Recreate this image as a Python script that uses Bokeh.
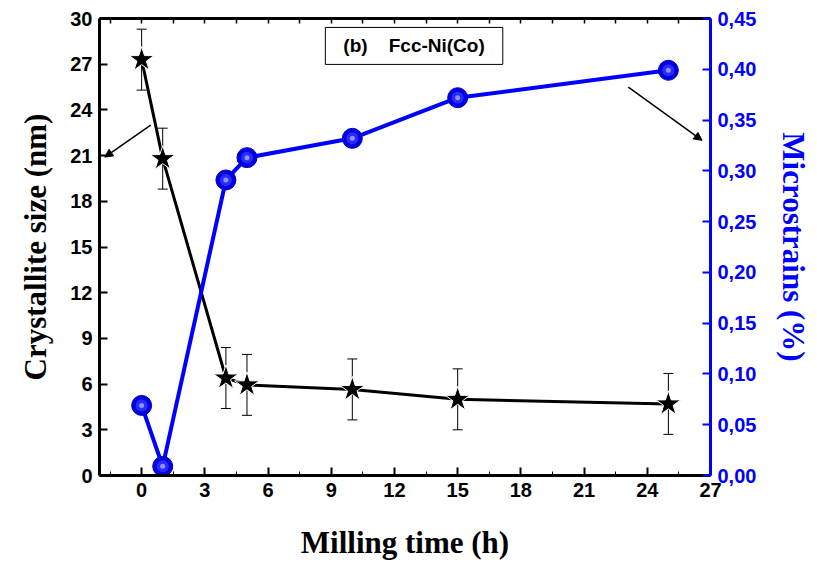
from bokeh.plotting import figure
from bokeh.models import (LinearAxis, Range1d, FixedTicker, Whisker, TeeHead, Arrow,
                          NormalHead, Label, ColumnDataSource)
from bokeh.embed import file_html
from bokeh.resources import INLINE

# ---- data ----
milling_time = [0, 1, 4, 5, 10, 15, 25]
crystallite_size = [27.3, 20.8, 6.4, 5.95, 5.65, 5.0, 4.7]
size_error = [2.0, 2.0, 2.0, 2.0, 2.0, 2.0, 2.0]
microstrain = [0.069, 0.009, 0.291, 0.313, 0.332, 0.372, 0.399]

x_ticks = [0, 3, 6, 9, 12, 15, 18, 21, 24, 27]
y_ticks = [0, 3, 6, 9, 12, 15, 18, 21, 24, 27, 30]
strain_ticks = [0.0, 0.05, 0.10, 0.15, 0.20, 0.25, 0.30, 0.35, 0.40, 0.45]
strain_tick_labels = ["0,00", "0,05", "0,10", "0,15", "0,20", "0,25", "0,30", "0,35", "0,40", "0,45"]

BLUE = "#0000ff"
SANS = "Liberation Sans"
SERIF = "Liberation Serif"

p = figure(width=815, height=563, output_backend="svg", toolbar_location=None,
           x_range=Range1d(-2, 27), y_range=Range1d(0, 30),
           min_border_left=99, min_border_right=105, min_border_top=18, min_border_bottom=88,
           x_axis_location=None, y_axis_location=None)
p.extra_y_ranges = {"strain": Range1d(0, 0.45)}
p.grid.visible = False
p.outline_line_color = None
p.background_fill_color = "white"


def style_axis(ax, color="black"):
    ax.axis_line_width = 3
    ax.axis_line_color = color
    ax.major_tick_line_color = color
    ax.major_tick_in = 8
    ax.major_tick_out = 0
    ax.major_tick_line_width = 2
    ax.major_label_text_color = color
    ax.major_label_text_font = SANS
    ax.major_label_text_font_style = "bold"
    ax.major_label_text_font_size = "20px"
    ax.major_label_standoff = 7
    ax.axis_label_text_color = color
    ax.axis_label_text_font = SERIF
    ax.axis_label_text_font_style = "bold"
    ax.axis_label_text_font_size = "31px"


# bottom axis
xb = LinearAxis(ticker=FixedTicker(ticks=x_ticks, minor_ticks=[i * 1.5 for i in range(-1, 19)]))
xb.axis_label = "Milling time (h)"
style_axis(xb)
xb.minor_tick_in = 4
xb.minor_tick_out = 0
xb.axis_label_standoff = 25
p.add_layout(xb, "below")

# top axis (mirror)
xt = LinearAxis(ticker=FixedTicker(ticks=[i * 1.5 for i in range(-1, 19)], minor_ticks=[]))
xt.axis_line_width = 3
xt.major_tick_in = 5
xt.major_tick_out = 0
xt.major_tick_line_width = 1.5
xt.major_label_text_font_size = "0px"
xt.major_label_text_color = None
p.add_layout(xt, "above")

# left axis
yl = LinearAxis(ticker=FixedTicker(ticks=y_ticks, minor_ticks=[]))
yl.axis_label = "Crystallite size (nm)"
style_axis(yl)
yl.axis_label_standoff = 14
p.add_layout(yl, "left")

# right axis (strain)
yr = LinearAxis(y_range_name="strain", ticker=FixedTicker(ticks=strain_ticks, minor_ticks=[]))
yr.major_label_overrides = {t: l for t, l in zip(strain_ticks, strain_tick_labels)}
yr.axis_label = "Microstrains (%)"
style_axis(yr, BLUE)
yr.axis_label_standoff = 17
p.add_layout(yr, "right")

# crystallite size series
src = ColumnDataSource(dict(x=milling_time, y=crystallite_size,
                            lo=[v - e for v, e in zip(crystallite_size, size_error)],
                            hi=[v + e for v, e in zip(crystallite_size, size_error)]))
p.line("x", "y", source=src, line_color="black", line_width=3)
w = Whisker(source=src, base="x", lower="lo", upper="hi", line_color="black", line_width=1,
            upper_head=TeeHead(size=10, line_width=1, line_color="black"),
            lower_head=TeeHead(size=10, line_width=1, line_color="black"))
p.add_layout(w)
p.scatter("x", "y", source=src, marker="star", size=26, fill_color="black", line_color="white",
          line_width=1)

# microstrain series
ssrc = ColumnDataSource(dict(x=milling_time, y=microstrain))
p.line("x", "y", source=ssrc, y_range_name="strain", line_color=BLUE, line_width=4)
p.scatter("x", "y", source=ssrc, y_range_name="strain", size=20, fill_color="#0000e0",
          line_color="#0000c0", line_width=1)
p.scatter("x", "y", source=ssrc, y_range_name="strain", size=12, fill_color="#2a2aff",
          line_color=None)
p.scatter("x", "y", source=ssrc, y_range_name="strain", size=5, fill_color="#9090ff",
          line_color=None)

# arrows pointing to axes
p.add_layout(Arrow(x_start=0.43, y_start=23.0, x_end=-1.75, y_end=20.9, line_width=1.5,
                   end=NormalHead(size=8, fill_color="black", line_color="black")))
p.add_layout(Arrow(x_start=23.1, y_start=25.5, x_end=26.6, y_end=22.0, line_width=1.5,
                   end=NormalHead(size=8, fill_color="black", line_color="black")))

# boxed label
lab = Label(x=12.93, y=28.2, text="(b)\u00a0\u00a0\u00a0\u00a0Fcc-Ni(Co)", text_align="center",
            text_baseline="middle", text_font=SANS, text_font_style="bold",
            text_font_size="19px", text_color="black",
            border_line_color="black", border_line_width=1, background_fill_color="white",
            padding=(18, 8))
p.add_layout(lab)

open("out.html", "w").write(file_html(p, INLINE))
